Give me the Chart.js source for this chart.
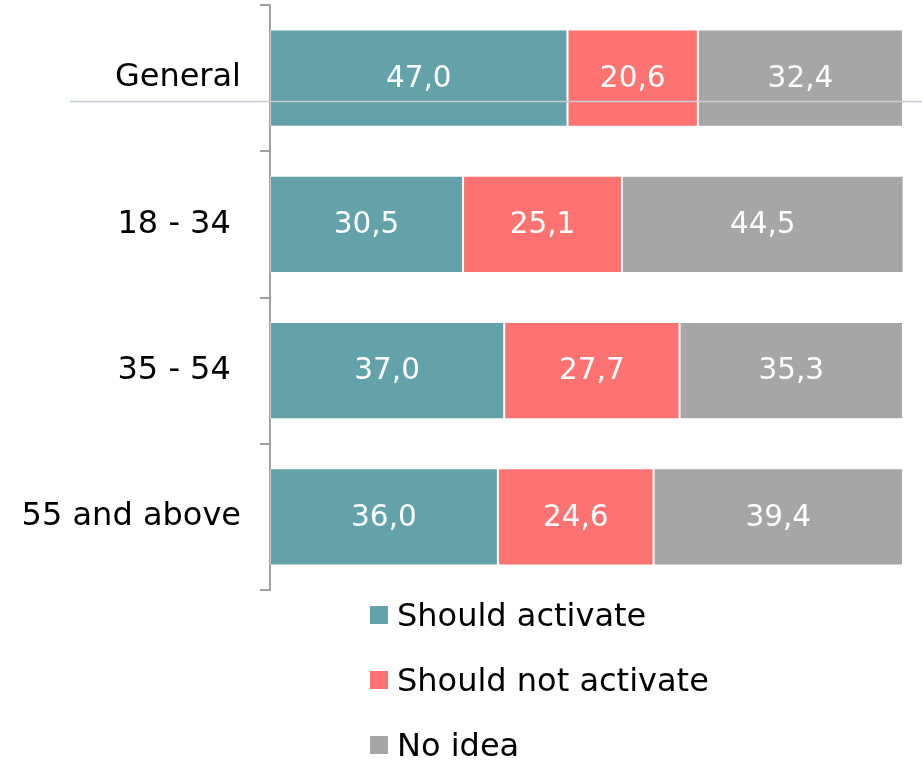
<!DOCTYPE html>
<html>
<head>
<meta charset="utf-8">
<script src="https://cdn.jsdelivr.net/npm/chart.js@4/dist/chart.umd.min.js"></script>
<style>
  html, body { margin: 0; padding: 0; background: #fff; overflow: hidden; }
  #wrap { position: relative; width: 922px; height: 761px; }
  canvas { display: block; }
  #legend { position: absolute; left: 370px; top: 582px; font-family: "DejaVu Sans", Verdana, sans-serif; font-size: 32px; color: #000; }
  .item { display: flex; align-items: center; height: 65px; }
  .sw { width: 18px; height: 18px; margin-right: 9px; }
</style>
</head>
<body>
<div id="wrap">
  <canvas id="c" width="922" height="761"></canvas>
  <div id="legend"></div>
</div>
<script>
const categories = ["General", "18 - 34 ", "35 - 54 ", "55 and above"];
const seriesNames = ["Should activate", "Should not activate", "No idea"];
const shouldActivate = [47.0, 30.5, 37.0, 36.0];
const shouldNotActivate = [20.6, 25.1, 27.7, 24.6];
const noIdea = [32.4, 44.5, 35.3, 39.4];
const colors = ["#64a2a9", "#ff7272", "#a6a6a6"];

const FONT = '"DejaVu Sans", Verdana, sans-serif';

const valueLabels = {
  id: 'valueLabels',
  afterDatasetsDraw(chart) {
    const ctx = chart.ctx;
    ctx.save();
    ctx.font = '29.5px ' + FONT;
    ctx.fillStyle = '#fff';
    ctx.textAlign = 'center';
    ctx.textBaseline = 'middle';
    chart.data.datasets.forEach((ds, i) => {
      chart.getDatasetMeta(i).data.forEach((el, j) => {
        const p = el.getProps(['x', 'y', 'base'], true);
        ctx.fillText(ds.data[j].toFixed(1).replace('.', ','), (p.x + p.base) / 2, p.y + 1);
      });
    });
    ctx.restore();
  }
};

const refLine = {
  id: 'refLine',
  afterDatasetsDraw(chart) {
    const y = chart.scales.y;
    const band = y.getPixelForValue(1) - y.getPixelForValue(0);
    const py = Math.round(y.getPixelForValue(0) + band * 0.155) + 0.5;
    const ctx = chart.ctx;
    ctx.save();
    ctx.strokeStyle = '#c5ccd3';
    ctx.lineWidth = 1.5;
    ctx.beginPath();
    ctx.moveTo(chart.chartArea.left - 200, py);
    ctx.lineTo(chart.width, py);
    ctx.stroke();
    ctx.restore();
  }
};

const mk = (label, data, color) => ({
  label, data, backgroundColor: color,
  borderColor: 'rgba(255,255,255,0.45)', borderWidth: 1, borderSkipped: false,
  barPercentage: 1, categoryPercentage: 0.665
});

new Chart(document.getElementById('c'), {
  type: 'bar',
  data: {
    labels: categories,
    datasets: [
      mk(seriesNames[0], shouldActivate, colors[0]),
      mk(seriesNames[1], shouldNotActivate, colors[1]),
      mk(seriesNames[2], noIdea, colors[2])
    ]
  },
  options: {
    indexAxis: 'y',
    responsive: false,
    animation: false,
    layout: { padding: { top: 5, right: 19, bottom: 171, left: 0 } },
    plugins: { legend: { display: false }, tooltip: { enabled: false } },
    scales: {
      x: { stacked: true, min: 0, max: 100, display: false },
      y: {
        stacked: true,
        afterFit(s) { s.width = 270; s.paddingTop = 0; s.paddingBottom = 0; },
        border: { display: true, color: '#a0a0a0', width: 2 },
        grid: { offset: true, drawOnChartArea: false, tickLength: 10, color: '#a0a0a0', lineWidth: 2 },
        ticks: { color: '#000', padding: 19, font: { family: FONT, size: 32 } }
      }
    }
  },
  plugins: [valueLabels, refLine]
});

const leg = document.getElementById('legend');
seriesNames.forEach((n, i) => {
  const d = document.createElement('div');
  d.className = 'item';
  d.innerHTML = '<span class="sw" style="background:' + colors[i] + '"></span><span>' + n + '</span>';
  leg.appendChild(d);
});
</script>
</body>
</html>
